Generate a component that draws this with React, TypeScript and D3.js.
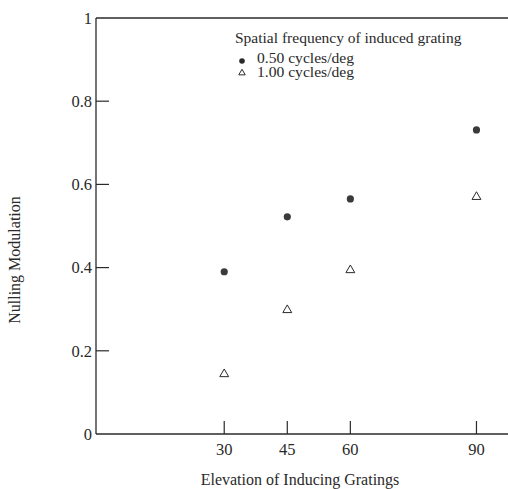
import React from "react";
import { scaleLinear, symbol, symbolTriangle } from "d3";

const width = 508;
const height = 489;

const elevations = [30, 45, 60, 90];
const lowFreq = [0.39, 0.522, 0.565, 0.731]; // 0.50 cycles/deg
const highFreq = [0.144, 0.298, 0.394, 0.57]; // 1.00 cycles/deg
const yTicks = [0, 0.2, 0.4, 0.6, 0.8, 1];
const yTickLabels = ["0", "0.2", "0.4", "0.6", "0.8", "1"];
const legendTitle = "Spatial frequency of induced grating";
const legendLabels = ["0.50 cycles/deg", "1.00 cycles/deg"];

const font = "'Liberation Serif', 'DejaVu Serif', serif";
const ink = "#2a2a2a";

export default function App() {
  // x: elevation (deg), axis starts a little left of 0
  const xScale = scaleLinear().domain([-0.5, 97.5]).range([96, 508]);
  // y: nulling modulation
  const yScale = scaleLinear().domain([0, 1]).range([434, 18]);

  const tri = symbol().type(symbolTriangle).size(34)();
  const triSmall = symbol().type(symbolTriangle).size(18)();

  const x0 = xScale(-0.5);
  const tickLen = 13;

  return (
    <svg width={width} height={height} style={{ position: "absolute", left: 0, top: 0 }}>
      <rect width={width} height={height} fill="white" />
      <g fontFamily={font} fill={ink}>
        {/* frame */}
        <line x1={x0} x2={width} y1={yScale(1)} y2={yScale(1)} stroke={ink} strokeWidth={1.3} />
        <line x1={x0} x2={width} y1={yScale(0)} y2={yScale(0)} stroke={ink} strokeWidth={1.3} />
        <line x1={x0} x2={x0} y1={yScale(1)} y2={yScale(0)} stroke={ink} strokeWidth={1.3} />

        {/* y axis */}
        {yTicks.map((t, i) => (
          <g key={t} transform={`translate(0, ${yScale(t)})`}>
            {t > 0 && t < 1 && <line x1={x0} x2={x0 + tickLen} stroke={ink} strokeWidth={1.2} />}
            <text x={x0 - 4} dy=".35em" textAnchor="end" fontSize={16.5}>
              {yTickLabels[i]}
            </text>
          </g>
        ))}

        {/* x axis */}
        {elevations.map((t) => (
          <g key={t} transform={`translate(${xScale(t)}, 0)`}>
            <line y1={yScale(0)} y2={yScale(0) - tickLen} stroke={ink} strokeWidth={1.2} />
            <text y={yScale(0) + 21} textAnchor="middle" fontSize={16.5}>
              {t}
            </text>
          </g>
        ))}

        {/* axis titles */}
        <text x={300} y={485} textAnchor="middle" fontSize={16}>
          Elevation of Inducing Gratings
        </text>
        <text transform="translate(20, 260) rotate(-90)" textAnchor="middle" fontSize={16}>
          Nulling Modulation
        </text>

        {/* marks */}
        {elevations.map((e, i) => (
          <circle key={"c" + e} cx={xScale(e)} cy={yScale(lowFreq[i])} r={3.6} fill="#3a3a3a" />
        ))}
        {elevations.map((e, i) => (
          <path
            key={"t" + e}
            d={tri}
            transform={`translate(${xScale(e)}, ${yScale(highFreq[i])})`}
            fill="none"
            stroke={ink}
            strokeWidth={1}
          />
        ))}

        {/* legend */}
        <text x={235} y={43} fontSize={15.5}>
          {legendTitle}
        </text>
        <circle cx={242} cy={61} r={2.8} fill={ink} />
        <path d={triSmall} transform="translate(242, 73)" fill="none" stroke={ink} strokeWidth={1} />
        <text x={257} y={63} fontSize={14} textLength={97} lengthAdjust="spacingAndGlyphs">
          {legendLabels[0]}
        </text>
        <text x={257} y={77} fontSize={14} textLength={97} lengthAdjust="spacingAndGlyphs">
          {legendLabels[1]}
        </text>
      </g>
    </svg>
  );
}
